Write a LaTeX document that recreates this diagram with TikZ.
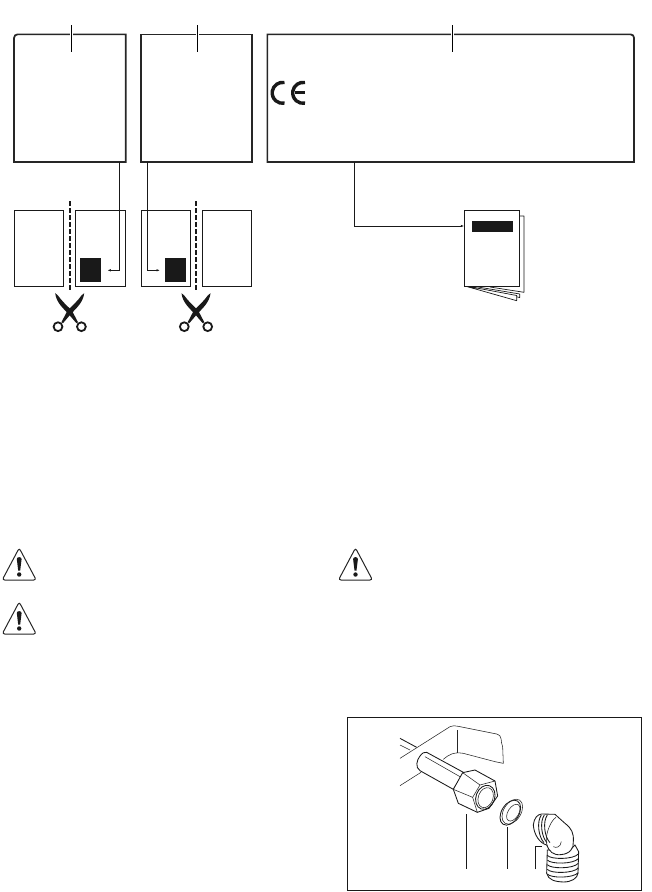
\documentclass[tikz,border=0pt]{standalone}
\usepackage{tikz}
\usetikzlibrary{arrows,arrows.meta,positioning,shapes}

\begin{document}
\begin{tikzpicture}[x=1pt,y=-1pt,
	scissors/.pic={
		\fill[black!90] (-14.5,-18.5) -- (-12,-16.5) .. controls (-8,-11) and (-3,-6) .. (2,-1.5) -- (8.3,10.5) -- (6.7,11.5) -- (-1,2.5) .. controls (-6,-3) and (-13.5,-9) .. cycle;
		\fill[black!90] (14.5,-18.5) -- (12,-16.5) .. controls (8,-11) and (3,-6) .. (-2,-1.5) -- (-8.3,10.5) -- (-6.7,11.5) -- (1,2.5) .. controls (6,-3) and (13.5,-9) .. cycle;
		\draw[line width=1.8pt,black!90,fill=white] (-11.7,15) circle (4.4) (11.7,15) circle (4.4);
	},
	warntri/.pic={
		\draw[line width=1pt,black!85,rounded corners=2.5pt] (0,-2) -- (17,30) -- (-17,30) -- cycle;
		\fill[black!90] (-2.4,9) .. controls (-2.4,6.5) and (2.4,6.5) .. (2.4,9) -- (1,20.5) -- (-1,20.5) -- cycle;
		\fill[black!90] (0,24.5) circle (2.2);
	}]
	\tikzstyle{labelbox}=[rectangle,inner sep=0pt,outer sep=0pt]
	\tikzstyle{boxline}=[line width=1.7pt,black!85]
	\tikzstyle{tick}=[line width=0.6pt,black,preaction={draw=white,line width=2.5pt}]
	\tikzstyle{page}=[rectangle,draw=black!90,line width=0.7pt,fill=white,inner sep=0pt,outer sep=0pt,minimum height=76pt]
	\tikzstyle{stamp}=[rectangle,fill=black!90,inner sep=0pt,outer sep=0pt,minimum width=21pt,minimum height=24pt]
	\tikzstyle{cutline}=[line width=1.9pt,black!90,dash pattern=on 4.5pt off 2.5pt]
	\tikzstyle{link}=[line width=0.7pt,black!90,arrows={-Latex[length=3.5pt,width=2.5pt]}]
	\tikzstyle{partline}=[line width=0.55pt,black!85]
	\tikzstyle{heavyline}=[line width=0.85pt,black!90]
	\tikzstyle{leader}=[line width=0.8pt,black!90]
	\tikzstyle{sheet}=[line width=0.7pt,black!90,fill=white,line join=bevel]

	\useasboundingbox (0,0) rectangle (652,892);

	\node[labelbox,minimum width=111.7pt,minimum height=127.7pt] (labela) at (69.9,98.2) {};
	\node[labelbox,minimum width=110.7pt,minimum height=127.7pt] (labelb) at (196.4,98.2) {};
	\node[labelbox,minimum width=366.7pt,minimum height=127.7pt] (labelc) at (450.7,98.2) {};
	\draw[boxline] (labela.south west) [rounded corners=3.5pt] -- (labela.north west) [sharp corners] -- (labela.north east) -- (labela.south east) -- cycle;
	\draw[boxline] (labelb.south west) rectangle (labelb.north east);
	\draw[boxline] (labelc.north west) [rounded corners=3.5pt] -- (labelc.north east) [sharp corners] -- (labelc.south east) -- (labelc.south west) -- cycle;

	\coordinate (ticka) at (71.3,25);
	\coordinate (tickb) at (197.3,25);
	\coordinate (tickc) at (452.3,25);
	\draw[tick] (ticka) -- +(0,27.3);
	\draw[tick] (tickb) -- +(0,27.3);
	\draw[tick] (tickc) -- +(0,27.3);

	% CE mark
	\draw[line width=3.4pt,black!90] (284.5,82.5) arc [start angle=-80,end angle=-280,x radius=10.5,y radius=10.5];
	\draw[line width=3.4pt,black!90] (305,82.5) arc [start angle=-80,end angle=-280,x radius=10.5,y radius=10.5];
	\draw[line width=2.8pt,black!90] (295,92.8) -- (304.5,92.8);

	% pages to cut
	\node[page,minimum width=49pt] (pagea) at (38.8,248.3) {};
	\node[page,minimum width=50pt] (pageb) at (100.7,248.3) {};
	\node[page,minimum width=49.4pt] (pagec) at (166,248.3) {};
	\node[page,minimum width=49.4pt] (paged) at (227,248.3) {};
	\node[stamp] (stampa) at (90.5,270) {};
	\node[stamp] (stampb) at (175.5,270) {};
	\draw[cutline] (69.7,201) -- (69.7,291);
	\draw[cutline] (196,201) -- (196,291);
	\pic at (69.7,311.7) {scissors};
	\pic at (196,311.7) {scissors};

	\coordinate (starta) at (119.3,162);
	\coordinate (enda) at (107.3,270.3);
	\coordinate (startb) at (147.3,162);
	\coordinate (endb) at (160,270.3);
	\draw[link] (starta) |- (enda);
	\draw[link] (startb) |- (endb);

	% booklet
	\draw[sheet] (519,216) -- (524,216) -- (524,292.3) -- (490,287) -- cycle;
	\draw[sheet] (472,286) -- (519.7,294) -- (519.7,297.5) -- (466,286) -- cycle;
	\draw[sheet] (466,286) -- (516.7,295.5) -- (516.7,300.7) -- (465,286) -- cycle;
	\fill[black!90] (464.5,286) -- (478,286) -- (474,288.5) -- cycle;
	\node[page,minimum width=55.4pt] (booklet) at (492,248.3) {};
	\node[rectangle,fill=black!90,inner sep=0pt,outer sep=0pt,minimum width=41pt,minimum height=11pt] (bookletbar) at (492.5,226.5) {};
	\coordinate (startc) at (354.3,162);
	\draw[link] (startc) |- (booklet.west |- 0,226);

	% warnings
	\pic at (19.2,550) {warntri};
	\pic at (19.2,604) {warntri};
	\pic at (355.5,550) {warntri};

	% fitting
	\node[rectangle,draw=black!90,line width=0.8pt,inner sep=0pt,outer sep=0pt,minimum width=294.4pt,minimum height=173pt] (fitframe) at (494.5,803.8) {};
	\begin{scope}[shift={(340,710)},x=0.3333pt,y=-0.3333pt]
		\draw[heavyline] (180,85) -- (230,112);
		\draw[partline] (180,105) -- (210,120);
		\draw[partline] (180,145) -- (330,50) .. controls (338,46) and (345,47) .. (355,49) -- (470,72) .. controls (490,78) and (480,95) .. (488,110) -- (490,160) -- (465,155) -- (370,130) .. controls (340,125) and (325,135) .. (310,148);
		\draw[partline] (352,60) -- (352,128);
		\draw[partline] (180,227) -- (243,187);

		\draw[heavyline,fill=white] (260,127) -- (372,188) -- (340,238) -- (240,182) .. controls (225,172) and (230,150) .. (240,138) .. controls (246,130) and (254,124) .. (260,127);
		\draw[partline] (255,140) -- (360,200);
		\draw[heavyline,fill=white] (368,188) -- (405,180) -- (465,213) -- (473,258) -- (447,295) -- (412,307) -- (355,280) -- (340,238) -- cycle;
		\draw[partline] (368,188) -- (420,225) -- (465,213);
		\draw[partline] (340,238) -- (398,262) -- (412,307);
		\draw[partline] (420,225) -- (398,262);
		\draw[heavyline] (436,262) ellipse [x radius=28,y radius=37,rotate=-20];
		\draw[partline] (437,263) ellipse [x radius=22,y radius=31,rotate=-20];

		\draw[heavyline] (511,308) ellipse [x radius=26,y radius=41,rotate=-32];
		\draw[partline] (517,305) ellipse [x radius=26,y radius=41,rotate=-32];
		\draw[partline] (520,308) ellipse [x radius=16,y radius=28,rotate=-32];

		\draw[leader] (380,312) -- (380,478);
		\draw[leader] (502,352) -- (502,478);
		\draw[leader] (586,478) -- (586,408) -- (605,408);

		% lower thread
		\draw[heavyline,fill=white] (622,420) -- (620,490) .. controls (625,510) and (645,515) .. (670,516) .. controls (695,516) and (712,505) .. (714,490) -- (716,425) -- (705,405) -- (690,420) -- cycle;
		\foreach \rib in {436,450,464,478,492}
			\draw[heavyline] (622,\rib) .. controls (632,\rib+13) and (700,\rib+13) .. (715,\rib-4);
		% upper thread and elbow
		\draw[heavyline,fill=white] (580,345) .. controls (582,325) and (592,313) .. (605,312) -- (645,313) -- (675,340) .. controls (695,355) and (702,370) .. (700,395) .. controls (702,415) and (690,432) .. (662,434) .. controls (640,436) and (628,425) .. (620,405) .. controls (600,400) and (582,375) .. cycle;
		\foreach \rib in {0,9,18}
			\draw[heavyline] (604+\rib,315) .. controls (590+\rib,335) and (595+\rib,380) .. (612+\rib,398);
		\draw[partline] (648,322) .. controls (628,335) and (612,385) .. (622,408);
		\draw[partline] (664,395) .. controls (662,412) and (648,415) .. (640,410);
	\end{scope}
\end{tikzpicture}
\end{document}
